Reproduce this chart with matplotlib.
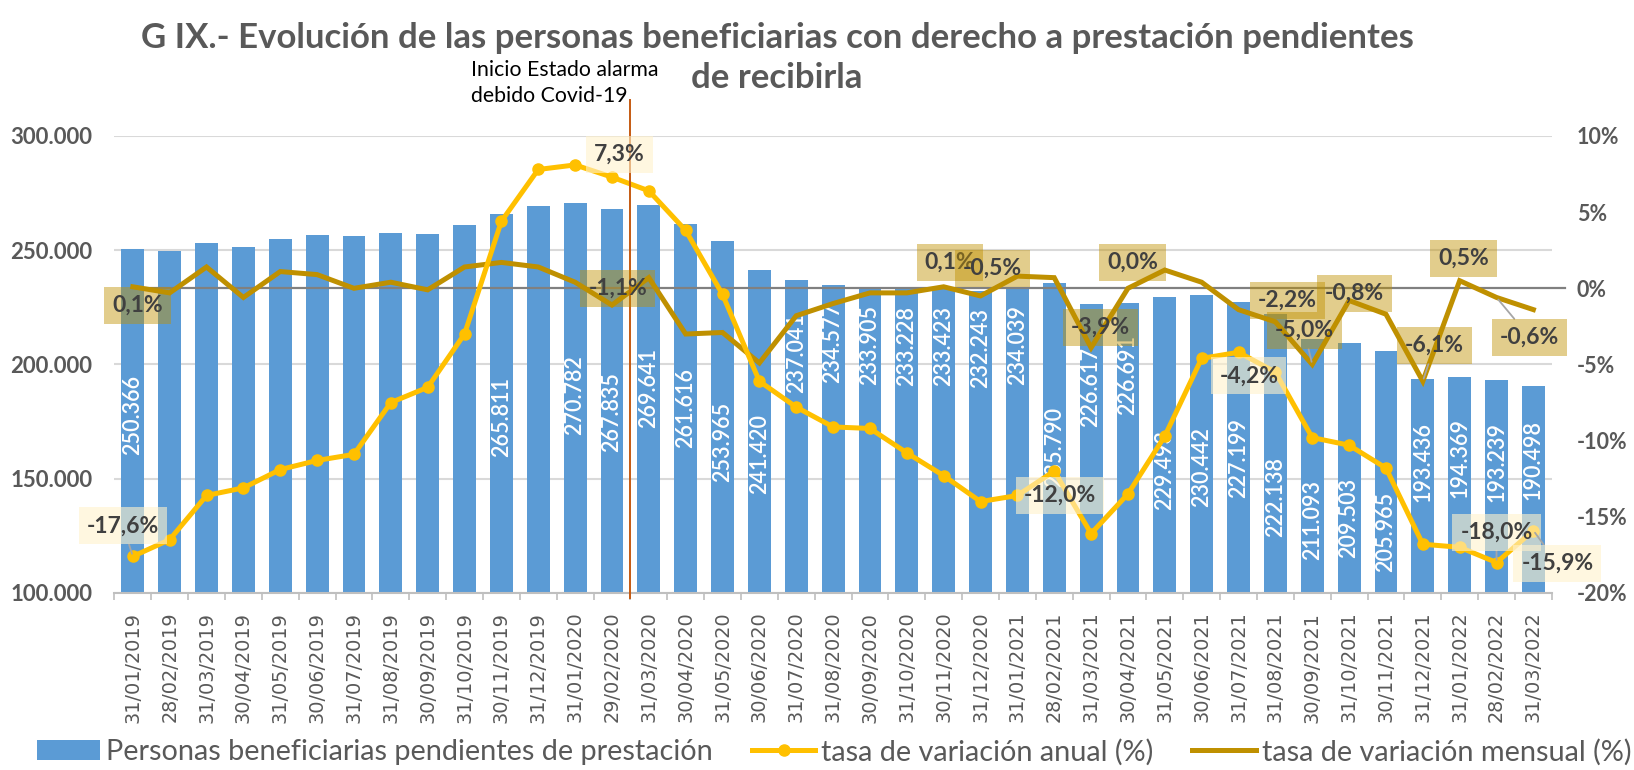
import matplotlib
matplotlib.use('Agg')
import matplotlib.pyplot as plt
import numpy as np
from matplotlib.lines import Line2D
from matplotlib.patches import Patch
from matplotlib.ticker import FuncFormatter, FixedLocator
import matplotlib.transforms as mtransforms

# ---------------- data ----------------
categories = ['31/01/2019', '28/02/2019', '31/03/2019', '30/04/2019', '31/05/2019', '30/06/2019',
              '31/07/2019', '31/08/2019', '30/09/2019', '31/10/2019', '30/11/2019', '31/12/2019',
              '31/01/2020', '29/02/2020', '31/03/2020', '30/04/2020', '31/05/2020', '30/06/2020',
              '31/07/2020', '31/08/2020', '30/09/2020', '31/10/2020', '30/11/2020', '31/12/2020',
              '31/01/2021', '28/02/2021', '31/03/2021', '30/04/2021', '31/05/2021', '30/06/2021',
              '31/07/2021', '31/08/2021', '30/09/2021', '31/10/2021', '30/11/2021', '31/12/2021',
              '31/01/2022', '28/02/2022', '31/03/2022']

beneficiarios = [250366, 249500, 253000, 251500, 254700, 256500, 256400, 257400, 257300, 261000,
                 265811, 269500, 270782, 267835, 269641, 261616, 253965, 241420, 237041, 234577,
                 233905, 233228, 233423, 232243, 234039, 235790, 226617, 226691, 229493, 230442,
                 227199, 222138, 211093, 209503, 205965, 193436, 194369, 193239, 190498]

tasa_anual = [-17.6, -16.5, -13.6, -13.1, -11.9, -11.3, -10.9, -7.5, -6.5, -3.0,
              4.4, 7.8, 8.1, 7.3, 6.4, 3.8, -0.4, -6.1, -7.8, -9.1,
              -9.2, -10.8, -12.3, -14.0, -13.6, -12.0, -16.1, -13.5, -9.7, -4.6,
              -4.2, -5.5, -9.8, -10.3, -11.8, -16.8, -17.0, -18.0, -15.9]

tasa_mensual = [0.1, -0.3, 1.4, -0.6, 1.1, 0.9, 0.0, 0.4, -0.1, 1.4,
                1.7, 1.4, 0.4, -1.1, 0.7, -3.0, -2.9, -4.9, -1.8, -1.0,
                -0.3, -0.3, 0.1, -0.5, 0.8, 0.7, -3.9, 0.0, 1.2, 0.4,
                -1.4, -2.2, -5.0, -0.8, -1.7, -6.1, 0.5, -0.6, -1.4]

serie_barras = 'Personas beneficiarias pendientes de prestación'
serie_anual = 'tasa de variación anual (%)'
serie_mensual = 'tasa de variación mensual (%)'
titulo = 'G IX.- Evolución de las personas beneficiarias con derecho a prestación pendientes\nde recibirla'
nota_covid = 'Inicio Estado alarma\ndebido Covid-19'
fecha_covid = '29/02/2020'

# which points carry a visible label
bar_label_idx = [0, 10] + list(range(12, 39))
anual_label_idx = [0, 13, 25, 30, 37, 38]
mensual_label_idx = [0, 13, 22, 23, 26, 27, 31, 32, 33, 35, 36, 37]

# ---------------- label placement (style) ----------------
bar_label_y = {0: 177.8, 10: 177, 12: 186.5, 13: 179.2, 14: 189.6, 15: 180.8, 16: 166, 17: 160.7,
               18: 204.9, 19: 209.3, 20: 208.4, 21: 208, 22: 208, 23: 207.1, 24: 208.4, 25: 163.9,
               26: 190.2, 27: 195.3, 28: 153.7, 29: 155.1, 30: 159, 31: 142, 32: 131.8, 33: 132.7,
               34: 126.7, 35: 157.3, 36: 159, 37: 157.3, 38: 158}
anual_label_pos = {0: (-0.26, -15.6), 13: (13.2, 8.8), 25: (25.15, -13.6), 30: (30.28, -5.75),
                   37: (37.0, -16.0), 38: (38.65, -18.05)}
anual_leader = [0, 37, 38]
mensual_label_pos = {0: (0.12, -1.12), 13: (13.16, 0.0), 22: (22.17, 1.71), 23: (23.32, 1.31),
                     26: (26.25, -2.56), 27: (27.12, 1.71), 31: (31.33, -0.79), 32: (31.78, -2.76),
                     33: (33.14, -0.33), 35: (35.32, -3.74), 36: (36.11, 1.97), 37: (37.9, -3.22)}
mensual_leader = [32, 35, 37]

BLUE = '#5B9BD5'
YELLOW = '#FFC000'
GOLD = '#BF9000'
GREY = '#595959'
LABEL = '#404040'
FONT = 'Lato'

plt.rcParams['font.family'] = [FONT, 'DejaVu Sans']

fig = plt.figure(figsize=(16.34, 7.70), dpi=100)
ax = fig.add_axes([0.0700, 0.2299, 0.8797, 0.5935])
x = np.arange(len(categories))

# bars
ax.bar(x, np.array(beneficiarios) / 1000.0, width=0.62, color=BLUE, zorder=2)
ax.set_xlim(-0.5, len(categories) - 0.5)
ax.set_ylim(100, 300)
ax.yaxis.set_major_locator(FixedLocator([100, 150, 200, 250, 300]))
ax.yaxis.set_major_formatter(FuncFormatter(lambda v, p: f"{int(round(v * 1000)):,}".replace(',', '.')))
ax.grid(axis='y', color='#D9D9D9', lw=1.5, zorder=0)
ax.set_axisbelow(True)
for s in ['top', 'right', 'left']:
    ax.spines[s].set_visible(False)
ax.spines['bottom'].set_color('#BFBFBF')
ax.spines['bottom'].set_linewidth(1.5)
ax.tick_params(axis='y', length=0, pad=16, labelsize=16, labelcolor=GREY)
for t in ax.get_yticklabels():
    t.set_fontweight('bold')

ax.set_xticks(x)
ax.set_xticklabels(categories, rotation=90, fontsize=13.9, color=GREY, family='DejaVu Sans')
ax.tick_params(axis='x', which='major', length=0, pad=13.5)
ax.set_xticks(np.arange(-0.5, len(categories), 1), minor=True)
ax.tick_params(axis='x', which='minor', length=5, width=1.2, color='#BFBFBF')

for i in bar_label_idx:
    ax.text(x[i], bar_label_y[i], f"{beneficiarios[i]:,}".replace(',', '.'), rotation=90,
            ha='center', va='center', color='white', fontsize=15.5, fontweight='semibold', zorder=3)

# secondary axis
ax2 = ax.twinx()
ax2.set_ylim(-20, 10)
ax2.yaxis.set_major_locator(FixedLocator([-20, -15, -10, -5, 0, 5, 10]))
ax2.yaxis.set_major_formatter(FuncFormatter(lambda v, p: f"{int(round(v))}%"))
for s in ax2.spines.values():
    s.set_visible(False)
ax2.tick_params(axis='y', length=0, pad=18, labelsize=15.5, labelcolor=GREY)
for t in ax2.get_yticklabels():
    t.set_fontweight('bold')

# zero line
x_end = len(categories) - 0.15
xmin = (x[0] + 0.5) / len(categories)
xmax = (x_end + 0.5) / len(categories)
ax2.axhline(0, xmin=xmin, xmax=xmax, color='#808080', lw=1.6, clip_on=False, zorder=1)

ax2.plot(x, tasa_mensual, color=GOLD, lw=3.6, zorder=3, solid_joinstyle='miter')
ax2.plot(x, tasa_anual, color=YELLOW, lw=3.6, marker='o', markersize=8, zorder=4)


def fmt_pct(v):
    return f"{v:.1f}%".replace('.', ',')


def rate_label(i, vals, pos, leaders, face, alpha):
    tx, ty = pos[i]
    bbox = dict(boxstyle='square,pad=0.35', fc=face, ec='none', alpha=alpha)
    if i in leaders:
        ax2.annotate(fmt_pct(vals[i]), xy=(x[i], vals[i]), xytext=(tx, ty), ha='center', va='center',
                     fontsize=16.5, fontweight='bold', color=LABEL, bbox=bbox, zorder=6,
                     arrowprops=dict(arrowstyle='-', color='#A6A6A6', lw=1.3, shrinkA=0, shrinkB=2),
                     annotation_clip=False)
    else:
        ax2.text(tx, ty, fmt_pct(vals[i]), ha='center', va='center', fontsize=16.5, fontweight='bold',
                 color=LABEL, bbox=bbox, zorder=6, clip_on=False)


for i in mensual_label_idx:
    rate_label(i, tasa_mensual, mensual_label_pos, mensual_leader, GOLD, 0.45)
for i in anual_label_idx:
    rate_label(i, tasa_anual, anual_label_pos, anual_leader, '#FFF2CC', 0.6)

# covid line + note
xc = categories.index(fecha_covid) + 0.5
trans = mtransforms.blended_transform_factory(ax.transData, ax.transAxes)
ax2.plot([xc, xc], [-0.01, 1.079], transform=trans, color='#C55A11', lw=1.4, clip_on=False, zorder=5)
fig.text(0.2882, 0.922, nota_covid, fontsize=15.3, color='black', ha='left', va='top', linespacing=1.4)

# title
lines = titulo.split('\n')
fig.text(0.4755, 0.950, lines[0], ha='center', va='center', fontsize=25, fontweight='bold', color=GREY)
fig.text(0.4755, 0.899, lines[1], ha='center', va='center', fontsize=25, fontweight='bold', color=GREY)

# legend
handles = [Patch(facecolor=BLUE, edgecolor='none'),
           Line2D([0], [0], color=YELLOW, lw=3.6, marker='o', markersize=8),
           Line2D([0], [0], color=GOLD, lw=3.6)]
leg = fig.legend(handles, [serie_barras, serie_anual, serie_mensual], loc='center',
                 bbox_to_anchor=(0.5104, 0.0234), ncol=3, frameon=False, fontsize=20.8,
                 handlelength=2.2, handleheight=0.7, handletextpad=0.2, columnspacing=1.35,
                 borderpad=0, labelcolor=GREY)

fig.savefig('out.png', dpi=100)
